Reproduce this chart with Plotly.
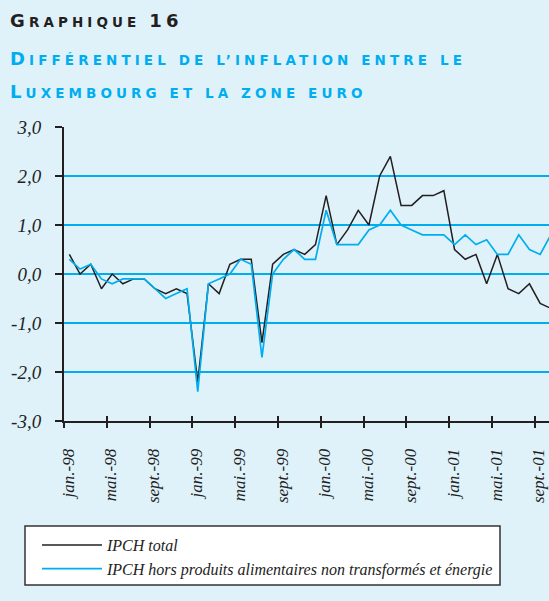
import numpy as np
import plotly.graph_objects as go

# ---- data (monthly, jan.-98 .. oct.-01) ----
ipch_total = [0.4, 0.0, 0.2, -0.3, 0.0, -0.2, -0.1, -0.1, -0.3, -0.4, -0.3, -0.4,
              -2.2, -0.2, -0.4, 0.2, 0.3, 0.3, -1.4, 0.2, 0.4, 0.5, 0.4, 0.6,
              1.6, 0.6, 0.9, 1.3, 1.0, 2.0, 2.4, 1.4, 1.4, 1.6, 1.6, 1.7,
              0.5, 0.3, 0.4, -0.2, 0.4, -0.3, -0.4, -0.2, -0.6, -0.7]
ipch_core = [0.3, 0.1, 0.2, -0.1, -0.2, -0.1, -0.1, -0.1, -0.3, -0.5, -0.4, -0.3,
             -2.4, -0.2, -0.1, 0.0, 0.3, 0.2, -1.7, 0.0, 0.3, 0.5, 0.3, 0.3,
             1.3, 0.6, 0.6, 0.6, 0.9, 1.0, 1.3, 1.0, 0.9, 0.8, 0.8, 0.8,
             0.6, 0.8, 0.6, 0.7, 0.4, 0.4, 0.8, 0.5, 0.4, 0.8]
tick_labels = ["jan.-98", "mai.-98", "sept.-98", "jan.-99", "mai.-99", "sept.-99",
               "jan.-00", "mai.-00", "sept.-00", "jan.-01", "mai.-01", "sept.-01"]
y_ticks = [3, 2, 1, 0, -1, -2, -3]
y_labels = ["3,0", "2,0", "1,0", "0,0", "-1,0", "-2,0", "-3,0"]
series_names = ["IPCH total", "IPCH hors produits alimentaires non transformés et énergie"]

BG = "#dff2fa"
BLUE = "#00aeef"
BLACK = "#231f20"
SERIF = "Liberation Serif, Times New Roman, serif"
W, H = 549, 601
L, T, B = 64, 127, 180
PW, PH = W - L, H - T - B

n = len(ipch_total)
x = np.arange(n) + 0.5          # each month centred between boundary ticks
tickpos = np.arange(len(tick_labels)) * 4
xrange_ = [0, PW / 10.7]

fig = go.Figure()
fig.add_trace(go.Scatter(x=x, y=ipch_total, mode="lines", name=series_names[0],
                         line=dict(color=BLACK, width=1.5)))
fig.add_trace(go.Scatter(x=x, y=ipch_core, mode="lines", name=series_names[1],
                         line=dict(color=BLUE, width=1.7)))


def small_caps(text, big, small):
    parts = []
    for ch in text:
        if ch == " ":
            parts.append(f'<span style="font-size:{small}px"> </span>')
        elif ch.isupper() or ch.isdigit():
            parts.append(f'<span style="font-size:{big}px">{ch}</span>')
        else:
            parts.append(f'<span style="font-size:{small}px">{ch.upper()}</span>')
    return "".join(parts)


def px_x(p):
    return (p - L) / PW


def px_y(p):
    return (H - B - p) / PH


TITLE_FONT = "DejaVu Sans, Verdana, sans-serif"
titles = [
    (small_caps("Graphique 16", 18, 13.5), BLACK, 33),
    (small_caps("Différentiel de l’inflation entre le", 18, 13.5), BLUE, 71),
    (small_caps("Luxembourg et la zone euro", 18, 13.5), BLUE, 104),
]
for txt, col, base in titles:
    fig.add_annotation(xref="paper", yref="paper",
                       x=px_x(8), y=px_y(base),
                       xanchor="left", yanchor="bottom",
                       text=f'<span style="letter-spacing:4.1px">{txt}</span>',
                       showarrow=False,
                       font=dict(family=TITLE_FONT, color=col, size=14, weight="bold"))

# legend box
fig.add_shape(type="rect", xref="paper", yref="paper",
              x0=px_x(25), x1=px_x(500), y0=px_y(585), y1=px_y(526),
              fillcolor="white", line=dict(color="#333333", width=1.5), layer="below")

fig.update_layout(
    width=W, height=H,
    paper_bgcolor=BG, plot_bgcolor=BG,
    margin=dict(l=L, r=0, t=T, b=B, autoexpand=False),
    showlegend=True,
    legend=dict(xref="container", yref="container",
                x=37 / W, y=1 - 528 / H, xanchor="left", yanchor="top",
                bgcolor="rgba(0,0,0,0)", borderwidth=0,
                font=dict(family=SERIF, size=16, color="#222222", style="italic"),
                traceorder="normal", itemwidth=60),
    xaxis=dict(range=xrange_, tickvals=tickpos, ticktext=tick_labels,
               tickangle=-90, showgrid=False, zeroline=False, automargin=False,
               showline=True, linecolor=BLACK, linewidth=2,
               ticks="outside", ticklen=5, tickwidth=1.5, tickcolor=BLACK,
               ticklabelshift=4, ticklabelstandoff=14,
               tickfont=dict(family=SERIF, size=17, color="#222222", style="italic")),
    xaxis2=dict(matches="x", overlaying="x", side="bottom", tickvals=tickpos,
                showticklabels=False, showgrid=False, zeroline=False, showline=False,
                ticks="inside", ticklen=5, tickwidth=1.5, tickcolor=BLACK,
                automargin=False),
    yaxis=dict(range=[-3, 3], tickvals=y_ticks, ticktext=y_labels, automargin=False,
               showgrid=True, gridcolor=BLUE, gridwidth=1.5, zeroline=False,
               showline=True, linecolor=BLACK, linewidth=2,
               ticks="outside", ticklen=7, tickwidth=1.5, tickcolor=BLACK,
               ticklabelstandoff=10,
               tickfont=dict(family=SERIF, size=19, color="#222222", style="italic")),
)
# invisible helper trace so the inside-tick overlay axis is rendered
fig.add_trace(go.Scatter(x=[x[0]], y=[ipch_total[0]], xaxis="x2", mode="markers",
                         marker=dict(opacity=0), showlegend=False, hoverinfo="skip"))

fig.write_html("out.html",
               config={"displayModeBar": False},
               post_script=f"document.body.style.margin='0';"
                           f"document.body.style.background='{BG}';")
